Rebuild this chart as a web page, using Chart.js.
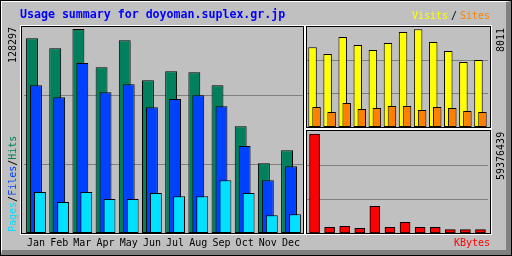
<!DOCTYPE html>
<html>
<head>
<meta charset="utf-8">
<script src="https://cdn.jsdelivr.net/npm/chart.js@4"></script>
<style>
body { margin: 0; background: #fff; }
#c { position: relative; width: 512px; height: 256px; background: #c0c0c0; overflow: hidden; font-family: "DejaVu Sans Mono", monospace; }
#c div, #c canvas { position: absolute; }
.panel { box-sizing: border-box; border: 1px solid #000; outline: 1px solid #fff; z-index: 3; }
.t { font-size: 10px; line-height: 10px; white-space: pre; z-index: 4; }
.up { transform: rotate(-90deg); transform-origin: 0 0; }
</style>
</head>
<body>
<div id="c">
  <div style="left:0;top:0;width:512px;height:256px;box-sizing:border-box;border:1px solid #000"></div>
  <div style="left:1px;top:1px;width:510px;height:254px;box-sizing:border-box;border-top:1px solid #fff;border-left:1px solid #fff;border-right:5px solid #808080;border-bottom:5px solid #808080"></div>

  <canvas id="main" width="281" height="226" style="left:23px;top:27px"></canvas>
  <canvas id="vs" width="181" height="100" style="left:307px;top:27px"></canvas>
  <canvas id="kb" width="181" height="102" style="left:307px;top:131px"></canvas>

  <div class="panel" style="left:21px;top:26px;width:283px;height:208px"></div>
  <div class="panel" style="left:306px;top:26px;width:185px;height:102px"></div>
  <div class="panel" style="left:306px;top:130px;width:185px;height:104px"></div>

  <div class="t" style="left:20px;top:8px;font-size:11.6px;line-height:12px;font-weight:bold;color:#0000ff">Usage summary for doyoman.suplex.gr.jp</div>
  <div class="t" style="left:412px;top:11px;color:#ffff00">Visits</div>
  <div class="t" style="left:451px;top:11px;color:#000">/</div>
  <div class="t" style="left:460px;top:11px;color:#ff8000">Sites</div>
  <div class="t" style="left:454px;top:238px;color:#ff0000">KBytes</div>
  <div class="t up" id="hmax" style="left:8px;top:63px;color:#000"></div>
  <div class="t up" id="vmax" style="left:496px;top:52px;color:#000"></div>
  <div class="t up" id="kmax" style="left:496px;top:180px;color:#000"></div>
  <div class="t up" style="left:8px;top:232px"><span style="color:#00e0ff">Pages</span>/<span style="color:#0040ff">Files</span>/<span style="color:#00805c">Hits</span></div>
</div>
<script>
// monthly usage
const months = ['Jan', 'Feb', 'Mar', 'Apr', 'May', 'Jun', 'Jul', 'Aug', 'Sep', 'Oct', 'Nov', 'Dec'];
const hits = [122450, 116160, 128297, 104210, 121190, 96030, 101690, 101070, 92890, 67100, 43830, 52010];
const files = [92890, 85340, 106910, 88490, 93520, 79050, 84270, 86600, 79680, 54720, 33140, 41950];
const pages = [25790, 19500, 25790, 21380, 21380, 25160, 23080, 23080, 33140, 25160, 11130, 11760];
const visits = [6535, 5986, 7380, 6724, 6314, 6888, 7790, 8011, 6970, 6232, 5330, 5494];
const sites = [1640, 1230, 1968, 1476, 1558, 1722, 1722, 1394, 1640, 1558, 1312, 1230];
const kbytes = [59376439, 3430000, 4030000, 2830000, 16060000, 3430000, 6440000, 3430000, 3430000, 2050000, 2050000, 2050000];

document.getElementById('hmax').textContent = Math.max(...hits);
document.getElementById('vmax').textContent = Math.max(...visits);
document.getElementById('kmax').textContent = Math.max(...kbytes);

// chart.js draws dataset 0 on top, here the later ones must overlap the earlier
const drawInOrder = {
    id: 'drawInOrder',
    beforeDatasetsDraw(chart) {
        chart.getSortedVisibleDatasetMetas().forEach(m => m.controller.draw());
        return false;
    }
};

function bars(label, data, color, extra) {
    return Object.assign({
        label: label,
        data: data,
        backgroundColor: color,
        borderColor: '#000',
        borderWidth: 1,
        borderSkipped: false
    }, extra);
}

function yAxis(max) {
    return {
        min: 0,
        max: max,
        ticks: { display: false },
        border: { display: false },
        grid: { color: '#808080', drawTicks: false },
        afterBuildTicks: s => { s.ticks = [1, 2].map(k => ({ value: s.max * k / 3 })); },
        afterFit: s => { s.width = 0; }
    };
}

function options(xAxis, yMax) {
    return {
        responsive: false,
        animation: false,
        events: [],
        layout: { padding: 0 },
        plugins: { legend: { display: false }, tooltip: { enabled: false } },
        scales: { x: xAxis, y: yAxis(yMax) }
    };
}

const hiddenX = { display: false };

const mainGroup = { categoryPercentage: 0.5125, barPercentage: 3 };
new Chart(document.getElementById('main'), {
    type: 'bar',
    data: {
        labels: months,
        datasets: [
            bars('Hits', hits, '#00805c', mainGroup),
            bars('Files', files, '#0040ff', mainGroup),
            bars('Pages', pages, '#00e0ff', mainGroup)
        ]
    },
    options: options({
        grid: { display: false, drawTicks: false },
        border: { display: false },
        ticks: { color: '#000', padding: 4, maxRotation: 0, autoSkip: false,
                 font: { family: 'DejaVu Sans Mono', size: 10 } },
        afterFit: s => { s.height = 20; }
    }, Math.max(...hits) * 1.01),
    plugins: [drawInOrder]
});

const vsGroup = { categoryPercentage: 0.53, barPercentage: 2.125 };
new Chart(document.getElementById('vs'), {
    type: 'bar',
    data: {
        labels: months,
        datasets: [
            bars('Visits', visits, '#ffff00', vsGroup),
            bars('Sites', sites, '#ff8000', vsGroup)
        ]
    },
    options: options(hiddenX, Math.max(...visits) * 1.024),
    plugins: [drawInOrder]
});

new Chart(document.getElementById('kb'), {
    type: 'bar',
    data: {
        labels: months,
        datasets: [bars('KBytes', kbytes, '#ff0000', { barThickness: 10 })]
    },
    options: options(hiddenX, Math.max(...kbytes) * 1.03)
});
</script>
</body>
</html>
